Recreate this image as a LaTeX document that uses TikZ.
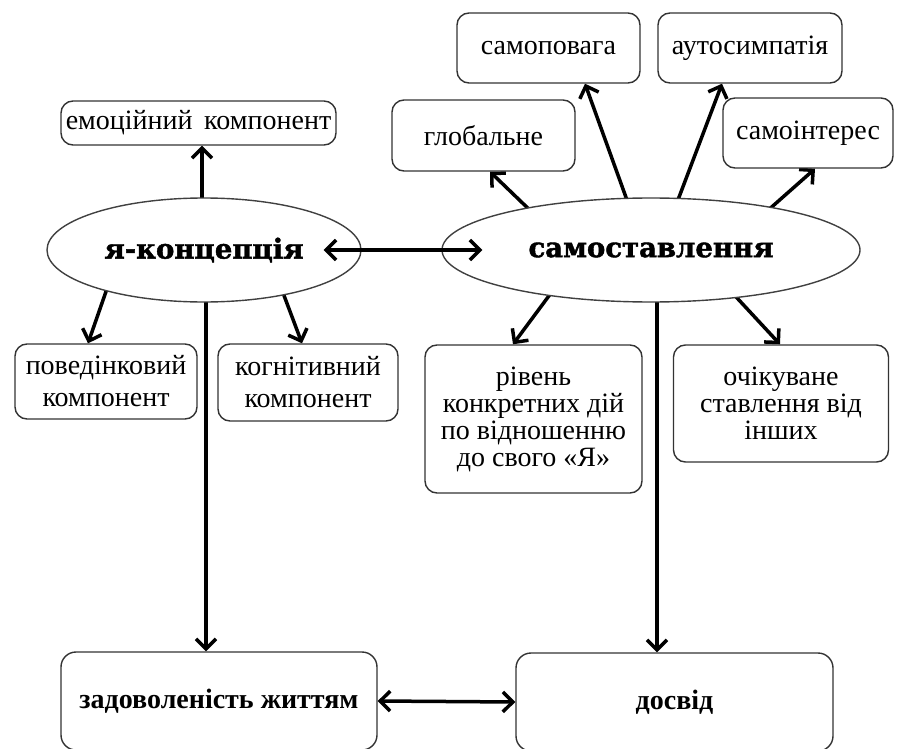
\documentclass[tikz,border=0pt]{standalone}
\usepackage{fontspec}
\setmainfont{Liberation Serif}
\newfontfamily\ellfont[FakeBold=1.6]{DejaVu Serif Bold}
\usetikzlibrary{arrows.meta,calc,shapes.geometric,backgrounds}
\begin{document}
\begin{tikzpicture}[x=1pt,y=-1pt,
  box/.style={draw=black!80, line width=1.4pt, rounded corners=12pt, fill=white, inner sep=0pt, align=center, font=\fontsize{28}{27}\selectfont, text=black},
  ell/.style={ellipse, draw=black!75, line width=1.4pt, fill=white, inner sep=0pt, font=\ellfont\fontsize{27.5}{32}\selectfont},
  btxt/.style={font=\bfseries\fontsize{28}{30}\selectfont},
  tip/.tip={Straight Barb[length=10pt,width=20pt]},
  arr/.style={line width=3.5pt, -tip},
  darr/.style={line width=3.5pt, tip-tip}
]
\useasboundingbox (0,0) rectangle (900,749);

% ellipses
\node[ell, minimum width=314pt, minimum height=104pt] (ja) at (204,250) {я-концепція};
\node[ell, minimum width=418pt, minimum height=104pt] (sam) at (651,250) {самоставлення};

% boxes
\node[box, minimum width=275pt, minimum height=44pt] (emo) at (198.5,123) {емоційний\, компонент};
\node[box, minimum width=183pt, minimum height=71pt] (glob) at (483.5,135.5) {глобальне};
\node[box, minimum width=183pt, minimum height=70pt] (samop) at (548.5,48) {самоповага};
\node[box, minimum width=184pt, minimum height=70pt] (auto) at (750,48) {аутосимпатія};
\node[box, minimum width=170pt, minimum height=70pt] (samoi) at (808,133) {самоінтерес};
\node[box, minimum width=182pt, minimum height=75pt, font=\fontsize{28}{32}\selectfont] (povid) at (106,381.5) {поведінковий\\компонент};
\node[box, minimum width=180pt, minimum height=77pt, font=\fontsize{28}{32}\selectfont] (kogn) at (308,382.5) {когнітивний\\компонент};
\node[box, minimum width=217pt, minimum height=148pt] (riv) at (533.5,419) {рівень\\конкретних дій\\по відношенню\\до свого «Я»};
\node[box, minimum width=215pt, minimum height=117pt] (ochik) at (781,403.5) {очікуване\\ставлення від\\інших};
\node[box, minimum width=316pt, minimum height=98pt, rounded corners=15pt, btxt] (zad) at (219,701) {задоволеність життям};
\node[box, minimum width=317pt, minimum height=98pt, rounded corners=15pt, btxt] (dosv) at (674.5,702) {досвід};

% radial arrows (start hidden under the ellipses)
\begin{scope}[on background layer]
\draw[arr] ($(ja.center)+(-2,0)$) -- ($(emo.south)+(3.5,0)$);
\draw[arr] ($(ja.center)+(-86,7)$) -- ($(povid.north)+(-18,0)$);
\draw[arr] ($(ja.center)+(64,3)$) -- ($(kogn.north)+(-6,0)$);
\draw[arr] ($(ja.center)+(2,0)$) -- ($(zad.north)+(-13,0)$);
\draw[arr] ($(sam.center)+(-87,-7)$) -- ($(glob.south)+(6.5,0)$);
\draw[arr] ($(sam.center)+(-6,0)$) -- ($(samop.south)+(36.5,0)$);
\draw[arr] ($(sam.center)+(8,0)$) -- ($(auto.south)+(-28,0)$);
\draw[arr] ($(sam.center)+(80,-7)$) -- ($(samoi.south)+(7,0)$);
\draw[arr] ($(sam.center)+(-74,8)$) -- ($(riv.north)+(-20.5,0)$);
\draw[arr] ($(sam.center)+(49,8)$) -- ($(ochik.north)+(-1,0)$);
\draw[arr] ($(sam.center)+(6,0)$) -- ($(dosv.north)+(-17.5,0)$);
\end{scope}

% double arrows
\draw[darr] ($(ja.east)+(-38,0)$) -- ($(sam.west)+(41,0)$);
\draw[darr] (zad.east) -- (dosv.west);
\end{tikzpicture}
\end{document}
